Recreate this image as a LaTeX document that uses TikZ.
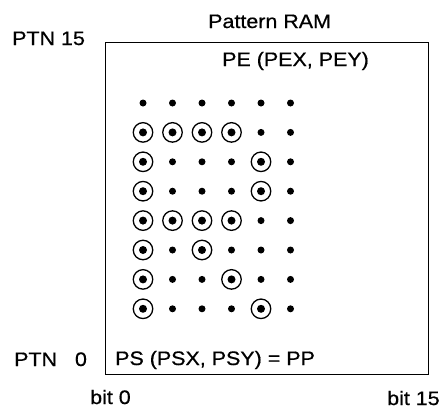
\documentclass[tikz,border=0pt]{standalone}
\usepackage{fontspec}
\setmainfont{Liberation Sans}[FakeStretch=1.1,FakeBold=0.6]
\begin{document}
\begin{tikzpicture}[x=1pt,y=-1pt,
  lbl/.style={inner sep=0pt, anchor=base west, font=\fontsize{19.5}{22}\selectfont},
  dot/.style={circle, fill=black, inner sep=0pt, minimum size=7pt},
  bigdot/.style={circle, fill=black, inner sep=0pt, minimum size=8pt},
  ring/.style={circle, draw=black, line width=1.3pt, inner sep=0pt, minimum size=19.5pt},
  frame/.style={draw=black, line width=0.9pt, inner sep=0pt, minimum width=323pt, minimum height=332pt, anchor=north west}]
\useasboundingbox (0,0) rectangle (446,410);
\node[frame] (ram) at (105,42) {};
\node[lbl] (title) at (208,28) {Pattern RAM};
\node[lbl] (ptn15) at (12,45) {PTN 15};
\node[lbl] (pe) at (222,66) {PE (PEX, PEY)};
\node[lbl] (ptn0) at (14,366) {PTN \phantom{1}0};
\node[lbl] (ps) at (115,365) {PS (PSX, PSY) = PP};
\node[lbl] (bit0) at (90,404) {bit 0};
\node[lbl] (bit15) at (387,405) {bit 15};
\foreach \r in {1,...,8}
  \foreach \c in {1,...,6}
    \coordinate (p\r\c) at ({143+29.5*(\c-1)},{103+29.4*(\r-1)});
\foreach \r/\c in {2/1,2/2,2/3,2/4,3/1,3/5,4/1,4/5,5/1,5/2,5/3,5/4,6/1,6/3,7/1,7/4,8/1,8/5}{
  \node[ring] (c\r\c) at (p\r\c) {};
  \node[bigdot] (b\r\c) at (p\r\c) {};
}
\foreach \r/\c in {1/1,1/2,1/3,1/4,1/5,1/6,2/5,2/6,3/2,3/3,3/4,3/6,4/2,4/3,4/4,4/6,5/5,5/6,6/2,6/4,6/5,6/6,7/2,7/3,7/5,7/6,8/2,8/3,8/4,8/6}{
  \node[dot] (d\r\c) at (p\r\c) {};
}
\end{tikzpicture}
\end{document}
